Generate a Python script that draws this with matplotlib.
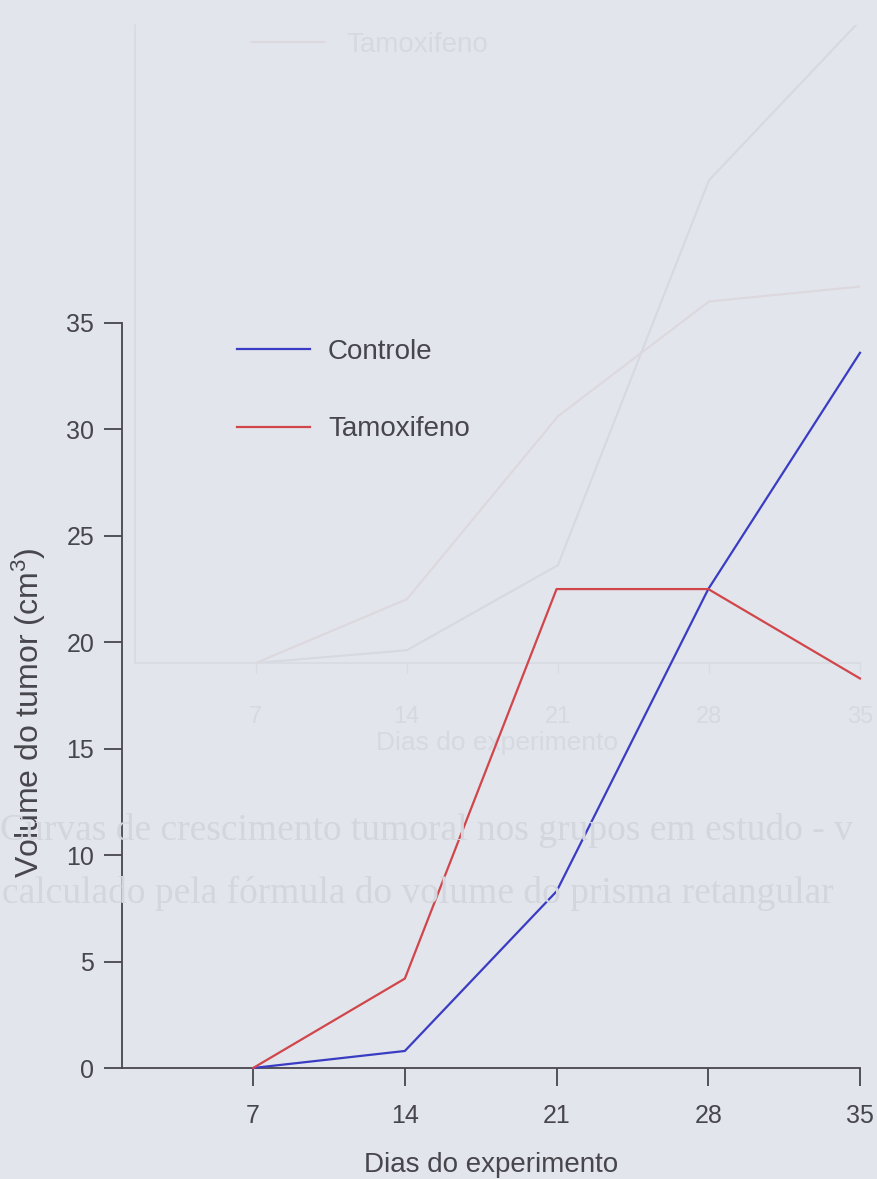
"""Tumour volume growth curves, control vs tamoxifen."""
import matplotlib
import matplotlib.pyplot as plt

matplotlib.use('agg')

plt.rcParams['font.family'] = ['Liberation Sans', 'DejaVu Sans']
plt.rcParams['mathtext.default'] = 'regular'

# main chart
dias = [7, 14, 21, 28, 35]
controle = [0.0, 0.8, 8.3, 22.5, 33.6]
tamoxifeno = [0.0, 4.2, 22.5, 22.5, 18.3]
y_ticks = [0, 5, 10, 15, 20, 25, 30, 35]

# faint chart printed on the other side of the sheet
verso_a = [0.0, 0.6, 4.6, 22.7, 30.2]
verso_b = [0.0, 3.0, 11.6, 17.0, 17.7]
legenda_verso = "Tamoxifeno"

BG = '#e2e5eb'
INK = '#46464c'
GHOST = '#d7d9e0'

W, H = 878, 1179
fig = plt.figure(figsize=(W / 100, H / 100), dpi=100, facecolor=BG)


def box(x0, y0, x1, y1):
    """pixel box (top-left origin) -> figure fraction rect"""
    return [x0 / W, 1 - y1 / H, (x1 - x0) / W, (y1 - y0) / H]


# ---- faint verso chart ----
gx = fig.add_axes(box(135, 25, 860, 663))
gx.set_facecolor('none')
gx.set_xlim(1.4, 35)
gx.set_ylim(0, 30)
gx.plot(dias, verso_a, color='#d6d9e2', lw=1.5)
gx.plot(dias, verso_b, color='#dcd8de', lw=1.5)
for s in ['top', 'right']:
    gx.spines[s].set_visible(False)
for s in ['left', 'bottom']:
    gx.spines[s].set_color('#d9dbe2')
    gx.spines[s].set_linewidth(1.2)
gx.set_xticks(dias)
gx.set_yticks([])
gx.tick_params(colors='#d9dbe2', labelcolor=GHOST, labelsize=17, length=7,
               width=1.0, pad=24)
gx.set_xlabel("Dias do experimento", color=GHOST, fontsize=19, labelpad=2)
gx.legend([gx.lines[1]], [legenda_verso], loc='upper left',
          bbox_to_anchor=(252 / W, 1 - 32 / H),
          bbox_transform=fig.transFigure, frameon=False, fontsize=20,
          handlelength=2.6, handletextpad=0.8, borderpad=0,
          borderaxespad=0, labelcolor=GHOST)

fig.text(0.0, 1 - 830 / H,
         "Curvas de crescimento tumoral nos grupos em estudo - v",
         family='Liberation Serif', fontsize=27, color='#d4d6de',
         va='center')
fig.text(0.002, 1 - 893 / H,
         "calculado pela fórmula do volume do prisma retangular",
         family='Liberation Serif', fontsize=27, color='#d4d6de',
         va='center')

# ---- main chart ----
ax = fig.add_axes(box(122, 323, 860, 1068))
ax.set_facecolor('none')
ax.set_xlim(0.95, 35)
ax.set_ylim(0, 35)

ax.plot(dias, controle, color='#3a3cc4', lw=1.6, label="Controle",
        clip_on=False, zorder=3)
ax.plot(dias, tamoxifeno, color='#d0464b', lw=1.6, label="Tamoxifeno",
        clip_on=False, zorder=3)

for s in ['top', 'right']:
    ax.spines[s].set_visible(False)
for s in ['left', 'bottom']:
    ax.spines[s].set_color(INK)
    ax.spines[s].set_linewidth(1.3)

ax.set_xticks(dias)
ax.set_yticks(y_ticks)
ax.tick_params(colors=INK, labelcolor=INK, labelsize=18, length=13,
               width=1.3)
ax.tick_params(axis='x', pad=13)
ax.tick_params(axis='y', pad=7)
ax.set_xlabel("Dias do experimento", color=INK, fontsize=20, labelpad=17)
ax.set_ylabel("Volume do tumor (cm$^3$)", color=INK, fontsize=23,
              va='center')
ax.yaxis.set_label_coords(-0.126, 0.4765)

ax.legend(loc='upper left', bbox_to_anchor=(237 / W, 1 - 339 / H),
          bbox_transform=fig.transFigure, frameon=False, fontsize=20,
          handlelength=2.63, handletextpad=0.65, labelspacing=1.85,
          borderpad=0, borderaxespad=0, labelcolor=INK)

fig.savefig("out.png", dpi=100, facecolor=BG)
